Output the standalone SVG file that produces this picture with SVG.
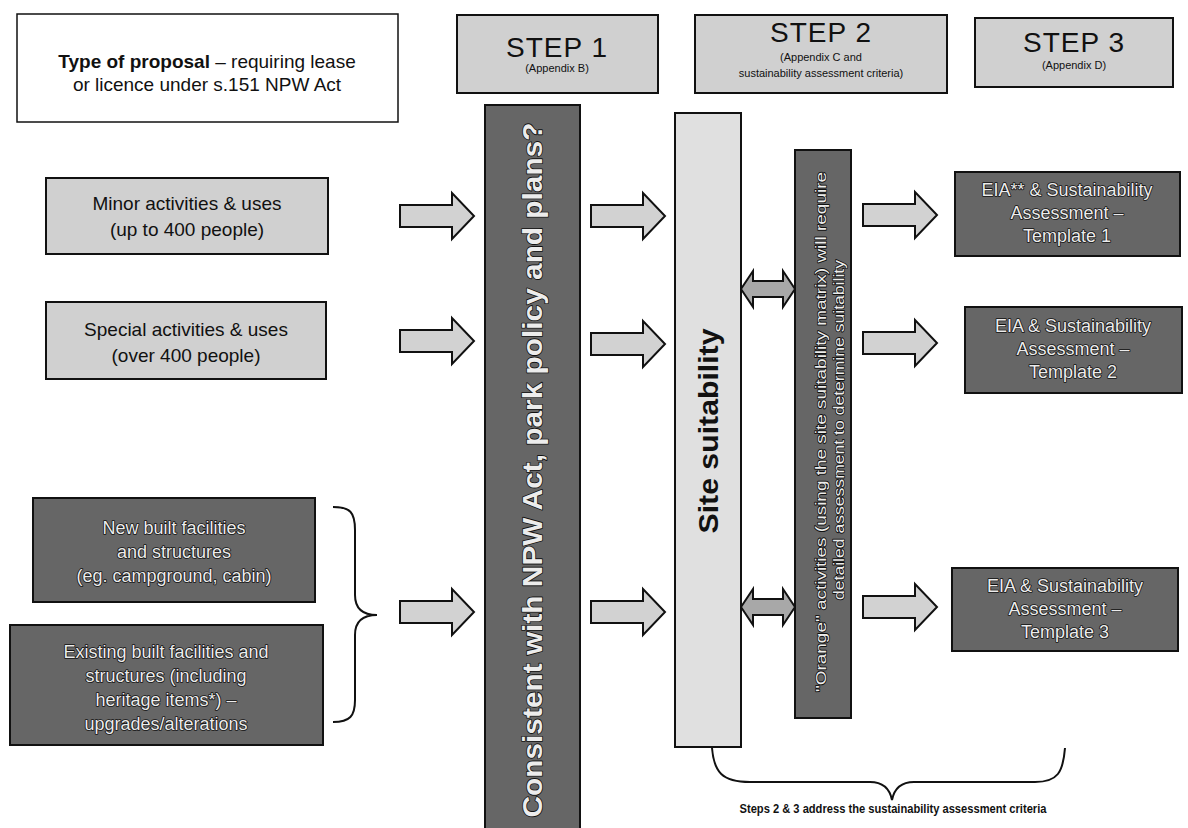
<svg xmlns="http://www.w3.org/2000/svg" width="1188" height="828" viewBox="0 0 1188 828">
<style>
.t{font-family:"Liberation Sans",Arial,sans-serif;}
.lb{fill:#d0d0d0;stroke:#111;stroke-width:2;}
.db{fill:#666666;stroke:#111;stroke-width:2;}
.wb{fill:#ffffff;stroke:#111;stroke-width:1.5;}
.ss{fill:#e0e0e0;stroke:#111;stroke-width:2;}
.dt{fill:#ececec;stroke:#111;stroke-width:1.6;paint-order:stroke;stroke-linejoin:round;}
.lt{fill:#111;}
.st{fill:#111;letter-spacing:1px;}
.ar{fill:#d2d2d2;stroke:#111;stroke-width:2;stroke-linejoin:miter;}
.da{fill:#a8a8a8;stroke:#111;stroke-width:2;}
.br{fill:none;stroke:#111;stroke-width:2;}
</style>
<defs>
<path id="arr" d="M0,-11 H52 V-23 L74,0 L52,23 V11 H0 Z"/>
<path id="dar" d="M0,0 L12,-18 V-8 H42 V-18 L54,0 L42,18 V8 H12 V18 Z"/>
</defs>

<g id="type-box">
<rect class="wb" x="17" y="14" width="381" height="108"/>
<text class="t lt" x="207" y="68" font-size="19" text-anchor="middle"><tspan font-weight="bold">Type of proposal</tspan> – requiring lease</text>
<text class="t lt" x="207" y="91" font-size="19" text-anchor="middle">or licence under s.151 NPW Act</text>
</g>

<g id="step1">
<rect class="lb" x="457" y="15" width="201" height="78"/>
<text class="t st" x="557" y="57" font-size="28" text-anchor="middle">STEP 1</text>
<text class="t lt" x="557" y="72" font-size="11" text-anchor="middle">(Appendix B)</text>
</g>
<g id="step2">
<rect class="lb" x="695" y="15" width="252" height="78"/>
<text class="t st" x="821" y="42" font-size="28" text-anchor="middle">STEP 2</text>
<text class="t lt" x="821" y="61" font-size="11" text-anchor="middle">(Appendix C and</text>
<text class="t lt" x="821" y="77" font-size="11" text-anchor="middle">sustainability assessment criteria)</text>
</g>
<g id="step3">
<rect class="lb" x="975" y="18" width="198" height="69"/>
<text class="t st" x="1074" y="52" font-size="28" text-anchor="middle">STEP 3</text>
<text class="t lt" x="1074" y="69" font-size="11" text-anchor="middle">(Appendix D)</text>
</g>

<g id="minor">
<rect class="lb" x="46" y="178" width="282" height="76"/>
<text class="t lt" x="187" y="210" font-size="19" text-anchor="middle">Minor activities &amp; uses</text>
<text class="t lt" x="187" y="236" font-size="19" text-anchor="middle">(up to 400 people)</text>
</g>
<g id="special">
<rect class="lb" x="46" y="302" width="280" height="77"/>
<text class="t lt" x="186" y="336" font-size="19" text-anchor="middle">Special activities &amp; uses</text>
<text class="t lt" x="186" y="362" font-size="19" text-anchor="middle">(over 400 people)</text>
</g>
<g id="new-built">
<rect class="db" x="33" y="498" width="282" height="104"/>
<text class="t dt" x="174" y="534" font-size="18" text-anchor="middle">New built facilities</text>
<text class="t dt" x="174" y="558" font-size="18" text-anchor="middle">and structures</text>
<text class="t dt" x="174" y="582" font-size="18" text-anchor="middle">(eg. campground, cabin)</text>
</g>
<g id="existing">
<rect class="db" x="10" y="625" width="313" height="120"/>
<text class="t dt" x="166" y="658" font-size="18" text-anchor="middle">Existing built facilities and</text>
<text class="t dt" x="166" y="682" font-size="18" text-anchor="middle">structures (including</text>
<text class="t dt" x="166" y="706" font-size="18" text-anchor="middle">heritage items*) –</text>
<text class="t dt" x="166" y="730" font-size="18" text-anchor="middle">upgrades/alterations</text>
</g>

<g id="consistent">
<rect class="db" x="485" y="105" width="95" height="730"/>
<text class="t dt" transform="translate(542,470) rotate(-90)" font-size="27" font-weight="bold" text-anchor="middle" textLength="695" lengthAdjust="spacingAndGlyphs">Consistent with NPW Act, park policy and plans?</text>
</g>
<g id="site-suitability">
<rect class="ss" x="675" y="113" width="66" height="634"/>
<text class="t lt" transform="translate(718,431) rotate(-90)" font-size="28" font-weight="bold" text-anchor="middle" textLength="205" lengthAdjust="spacingAndGlyphs">Site suitability</text>
</g>
<g id="orange">
<rect class="db" x="795" y="150" width="56" height="568"/>
<text class="t dt" transform="translate(826,432) rotate(-90)" font-size="15" text-anchor="middle" textLength="520" lengthAdjust="spacingAndGlyphs">"Orange" activities (using the site suitability matrix) will require</text>
<text class="t dt" transform="translate(844,430) rotate(-90)" font-size="15" text-anchor="middle" textLength="340" lengthAdjust="spacingAndGlyphs">detailed assessment to determine suitability</text>
</g>

<g id="eia1">
<rect class="db" x="955" y="172" width="225" height="84"/>
<text class="t dt" x="1067" y="196" font-size="18" text-anchor="middle">EIA** &amp; Sustainability</text>
<text class="t dt" x="1067" y="219" font-size="18" text-anchor="middle">Assessment –</text>
<text class="t dt" x="1067" y="242" font-size="18" text-anchor="middle">Template 1</text>
</g>
<g id="eia2">
<rect class="db" x="965" y="307" width="217" height="86"/>
<text class="t dt" x="1073" y="332" font-size="18" text-anchor="middle">EIA &amp; Sustainability</text>
<text class="t dt" x="1073" y="355" font-size="18" text-anchor="middle">Assessment –</text>
<text class="t dt" x="1073" y="378" font-size="18" text-anchor="middle">Template 2</text>
</g>
<g id="eia3">
<rect class="db" x="952" y="568" width="226" height="83"/>
<text class="t dt" x="1065" y="592" font-size="18" text-anchor="middle">EIA &amp; Sustainability</text>
<text class="t dt" x="1065" y="615" font-size="18" text-anchor="middle">Assessment –</text>
<text class="t dt" x="1065" y="638" font-size="18" text-anchor="middle">Template 3</text>
</g>

<g id="connectors">
<use href="#arr" class="ar" transform="translate(400,216)"/>
<use href="#arr" class="ar" transform="translate(400,341)"/>
<use href="#arr" class="ar" transform="translate(400,612)"/>
<use href="#arr" class="ar" transform="translate(591,216)"/>
<use href="#arr" class="ar" transform="translate(591,344)"/>
<use href="#arr" class="ar" transform="translate(591,612)"/>
<use href="#arr" class="ar" transform="translate(863,215)"/>
<use href="#arr" class="ar" transform="translate(863,343)"/>
<use href="#arr" class="ar" transform="translate(863,607)"/>
<use href="#dar" class="da" transform="translate(741,289)"/>
<use href="#dar" class="da" transform="translate(741,607)"/>
<path class="br" d="M333,507 C350,507 355,512 355,530 V595 C355,608 362,615 377,615 C362,615 355,622 355,635 V700 C355,716 350,722 333,722"/>
<path class="br" d="M712,748 C714,772 722,782 750,782 H870 C884,782 890,790 892,800 C894,790 900,782 914,782 H1035 C1058,782 1063,772 1065,748"/>
</g>
<text class="t lt" x="893" y="813" font-size="12" font-weight="bold" text-anchor="middle" textLength="307" lengthAdjust="spacingAndGlyphs">Steps 2 &amp; 3 address the sustainability assessment criteria</text>
</svg>
